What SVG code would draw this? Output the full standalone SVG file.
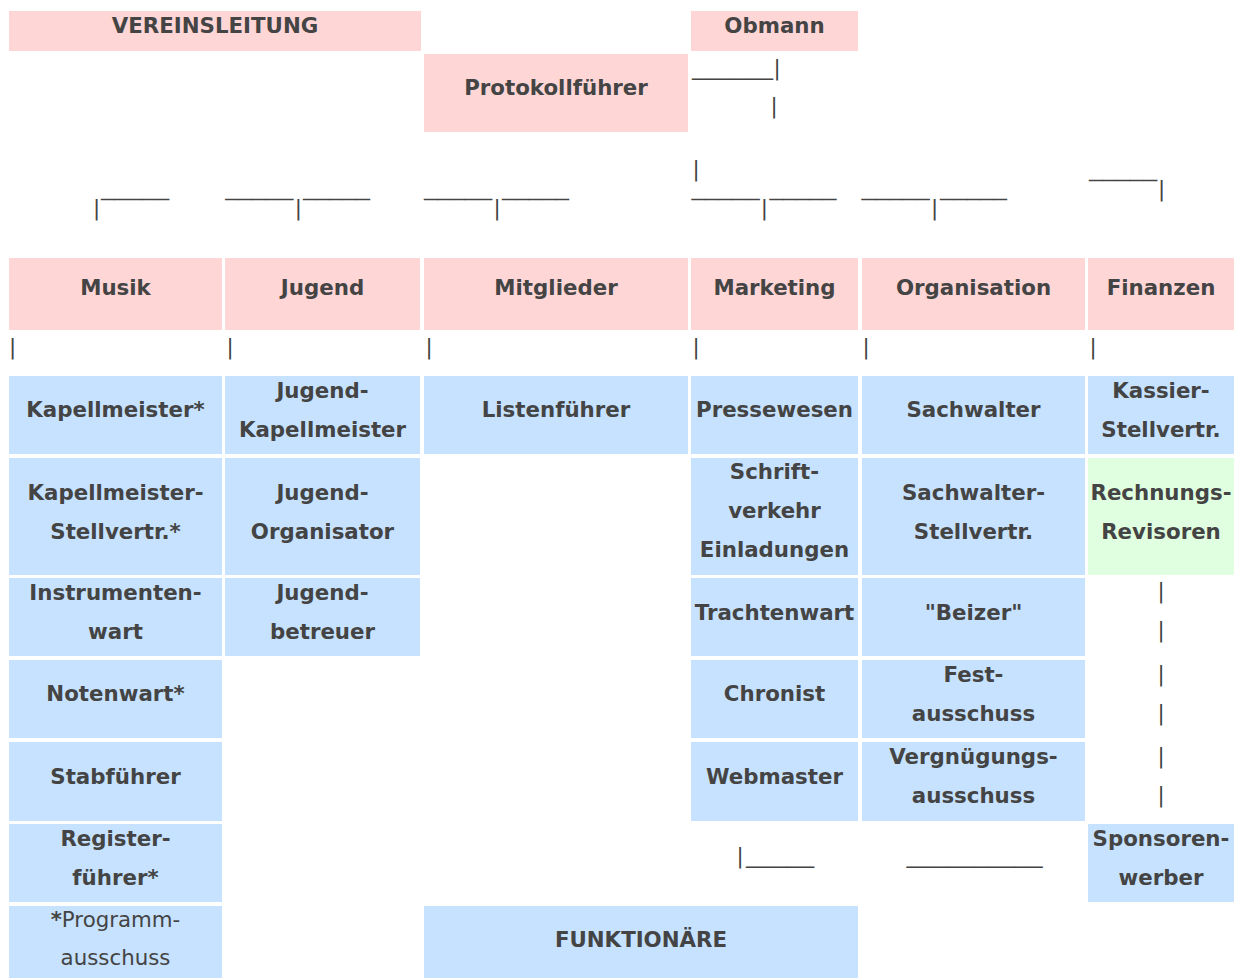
<svg xmlns="http://www.w3.org/2000/svg" width="1239" height="978" viewBox="0 0 1239 978">
<style>
.pk{fill:#FFD6D6}
.bl{fill:#C6E2FF}
.gr{fill:#E0FFE0}
.t{font-family:"DejaVu Sans",Verdana,sans-serif;font-weight:bold;font-size:21.33px;fill:#444444;text-anchor:middle}
.r{font-weight:normal}
.c{font-family:"DejaVu Sans",Verdana,sans-serif;font-weight:normal;font-size:21.33px;fill:#444444}
.m{text-anchor:middle}
</style>
<rect width="1239" height="978" fill="#FFFFFF"/>
<g id="vereinsleitung"><rect class="pk" x="9" y="11" width="412" height="40"/><text class="t" x="215" y="33">VEREINSLEITUNG</text></g>
<g id="obmann"><rect class="pk" x="691" y="11" width="167" height="40"/><text class="t" x="774.5" y="33">Obmann</text></g>
<g id="protokollfuehrer"><rect class="pk" x="424" y="54" width="264" height="78"/><text class="t" x="556" y="95">Protokollführer</text></g>

<g id="musik"><rect class="pk" x="9" y="258" width="213" height="72"/><text class="t" x="115.5" y="295">Musik</text></g>
<g id="jugend"><rect class="pk" x="225" y="258" width="195" height="72"/><text class="t" x="322.5" y="295">Jugend</text></g>
<g id="mitglieder"><rect class="pk" x="424" y="258" width="264" height="72"/><text class="t" x="556" y="295">Mitglieder</text></g>
<g id="marketing"><rect class="pk" x="691" y="258" width="167" height="72"/><text class="t" x="774.5" y="295">Marketing</text></g>
<g id="organisation"><rect class="pk" x="862" y="258" width="223" height="72"/><text class="t" x="973.5" y="295">Organisation</text></g>
<g id="finanzen"><rect class="pk" x="1088" y="258" width="146" height="72"/><text class="t" x="1161" y="295">Finanzen</text></g>

<g id="kapellmeister"><rect class="bl" x="9" y="376" width="213" height="78"/><text class="t" x="115.5" y="417">Kapellmeister*</text></g>
<g id="jugend-kapellmeister"><rect class="bl" x="225" y="376" width="195" height="78"/><text class="t" x="322.5" y="398">Jugend-</text><text class="t" x="322.5" y="437">Kapellmeister</text></g>
<g id="listenfuehrer"><rect class="bl" x="424" y="376" width="264" height="78"/><text class="t" x="556" y="417">Listenführer</text></g>
<g id="pressewesen"><rect class="bl" x="691" y="376" width="167" height="78"/><text class="t" x="774.5" y="417">Pressewesen</text></g>
<g id="sachwalter"><rect class="bl" x="862" y="376" width="223" height="78"/><text class="t" x="973.5" y="417">Sachwalter</text></g>
<g id="kassier-stellvertr"><rect class="bl" x="1088" y="376" width="146" height="78"/><text class="t" x="1161" y="398">Kassier-</text><text class="t" x="1161" y="437">Stellvertr.</text></g>

<g id="kapellmeister-stellvertr"><rect class="bl" x="9" y="458" width="213" height="117"/><text class="t" x="115.5" y="499.5">Kapellmeister-</text><text class="t" x="115.5" y="538.5">Stellvertr.*</text></g>
<g id="jugend-organisator"><rect class="bl" x="225" y="458" width="195" height="117"/><text class="t" x="322.5" y="499.5">Jugend-</text><text class="t" x="322.5" y="538.5">Organisator</text></g>
<g id="schriftverkehr"><rect class="bl" x="691" y="458" width="167" height="117"/><text class="t" x="774.5" y="479">Schrift-</text><text class="t" x="774.5" y="518">verkehr</text><text class="t" x="774.5" y="557">Einladungen</text></g>
<g id="sachwalter-stellvertr"><rect class="bl" x="862" y="458" width="223" height="117"/><text class="t" x="973.5" y="499.5">Sachwalter-</text><text class="t" x="973.5" y="538.5">Stellvertr.</text></g>
<g id="rechnungsrevisoren"><rect class="gr" x="1088" y="458" width="146" height="117"/><text class="t" x="1161" y="499.5">Rechnungs-</text><text class="t" x="1161" y="538.5">Revisoren</text></g>

<g id="instrumentenwart"><rect class="bl" x="9" y="578" width="213" height="78"/><text class="t" x="115.5" y="600">Instrumenten-</text><text class="t" x="115.5" y="639">wart</text></g>
<g id="jugendbetreuer"><rect class="bl" x="225" y="578" width="195" height="78"/><text class="t" x="322.5" y="600">Jugend-</text><text class="t" x="322.5" y="639">betreuer</text></g>
<g id="trachtenwart"><rect class="bl" x="691" y="578" width="167" height="78"/><text class="t" x="774.5" y="619.5">Trachtenwart</text></g>
<g id="beizer"><rect class="bl" x="862" y="578" width="223" height="78"/><text class="t" x="973.5" y="619.5">"Beizer"</text></g>

<g id="notenwart"><rect class="bl" x="9" y="660" width="213" height="78"/><text class="t" x="115.5" y="701">Notenwart*</text></g>
<g id="chronist"><rect class="bl" x="691" y="660" width="167" height="78"/><text class="t" x="774.5" y="701">Chronist</text></g>
<g id="festausschuss"><rect class="bl" x="862" y="660" width="223" height="78"/><text class="t" x="973.5" y="682">Fest-</text><text class="t" x="973.5" y="721">ausschuss</text></g>

<g id="stabfuehrer"><rect class="bl" x="9" y="742" width="213" height="79"/><text class="t" x="115.5" y="783.5">Stabführer</text></g>
<g id="webmaster"><rect class="bl" x="691" y="742" width="167" height="79"/><text class="t" x="774.5" y="783.5">Webmaster</text></g>
<g id="vergnuegungsausschuss"><rect class="bl" x="862" y="742" width="223" height="79"/><text class="t" x="973.5" y="764">Vergnügungs-</text><text class="t" x="973.5" y="803">ausschuss</text></g>

<g id="registerfuehrer"><rect class="bl" x="9" y="824" width="213" height="78"/><text class="t" x="115.5" y="846">Register-</text><text class="t" x="115.5" y="885">führer*</text></g>
<g id="sponsorenwerber"><rect class="bl" x="1088" y="824" width="146" height="78"/><text class="t" x="1161" y="846">Sponsoren-</text><text class="t" x="1161" y="885">werber</text></g>

<g id="programmausschuss"><rect class="bl" x="9" y="906" width="213" height="74"/><text class="t" x="115.5" y="926.5">*<tspan class="r">Programm-</tspan></text><text class="t r" x="115.5" y="965">ausschuss</text></g>
<g id="funktionaere"><rect class="bl" x="424" y="906" width="434" height="74"/><text class="t" x="641" y="947">FUNKTIONÄRE</text></g>

<g id="connectors">
<text class="c" x="692" y="75" textLength="81" lengthAdjust="spacingAndGlyphs">______</text>
<text class="c m" x="777" y="75">|</text>
<text class="c m" x="774" y="113">|</text>

<text class="c m" x="696" y="176">|</text>
<text class="c m" x="96.5" y="215">|</text>
<text class="c" x="101" y="215" textLength="68" lengthAdjust="spacingAndGlyphs">‾‾‾‾‾</text>
<text class="c" x="225.3" y="215" textLength="68" lengthAdjust="spacingAndGlyphs">‾‾‾‾‾</text>
<text class="c m" x="298.4" y="215">|</text>
<text class="c" x="303" y="215" textLength="67" lengthAdjust="spacingAndGlyphs">‾‾‾‾‾</text>
<text class="c" x="424" y="215" textLength="68" lengthAdjust="spacingAndGlyphs">‾‾‾‾‾</text>
<text class="c m" x="497" y="215">|</text>
<text class="c" x="502" y="215" textLength="67" lengthAdjust="spacingAndGlyphs">‾‾‾‾‾</text>
<text class="c" x="691.5" y="215" textLength="68" lengthAdjust="spacingAndGlyphs">‾‾‾‾‾</text>
<text class="c m" x="764.3" y="215">|</text>
<text class="c" x="769.4" y="215" textLength="67" lengthAdjust="spacingAndGlyphs">‾‾‾‾‾</text>
<text class="c" x="861.5" y="215" textLength="68" lengthAdjust="spacingAndGlyphs">‾‾‾‾‾</text>
<text class="c m" x="934.6" y="215">|</text>
<text class="c" x="940" y="215" textLength="67" lengthAdjust="spacingAndGlyphs">‾‾‾‾‾</text>
<text class="c" x="1089" y="196" textLength="68" lengthAdjust="spacingAndGlyphs">‾‾‾‾‾</text>
<text class="c m" x="1161.5" y="196">|</text>

<text class="c m" x="12.7" y="353.5">|</text>
<text class="c m" x="230" y="353.5">|</text>
<text class="c m" x="429" y="353.5">|</text>
<text class="c m" x="696" y="353.5">|</text>
<text class="c m" x="866" y="353.5">|</text>
<text class="c m" x="1093" y="353.5">|</text>

<text class="c m" x="1161" y="598">|</text>
<text class="c m" x="1161" y="637">|</text>
<text class="c m" x="1161" y="681">|</text>
<text class="c m" x="1161" y="719.5">|</text>
<text class="c m" x="1161" y="763">|</text>
<text class="c m" x="1161" y="802">|</text>

<text class="c m" x="740" y="863">|</text>
<text class="c" x="746" y="863" textLength="68" lengthAdjust="spacingAndGlyphs">_____</text>
<text class="c" x="906.5" y="863" textLength="136" lengthAdjust="spacingAndGlyphs">__________</text>
</g>
</svg>
